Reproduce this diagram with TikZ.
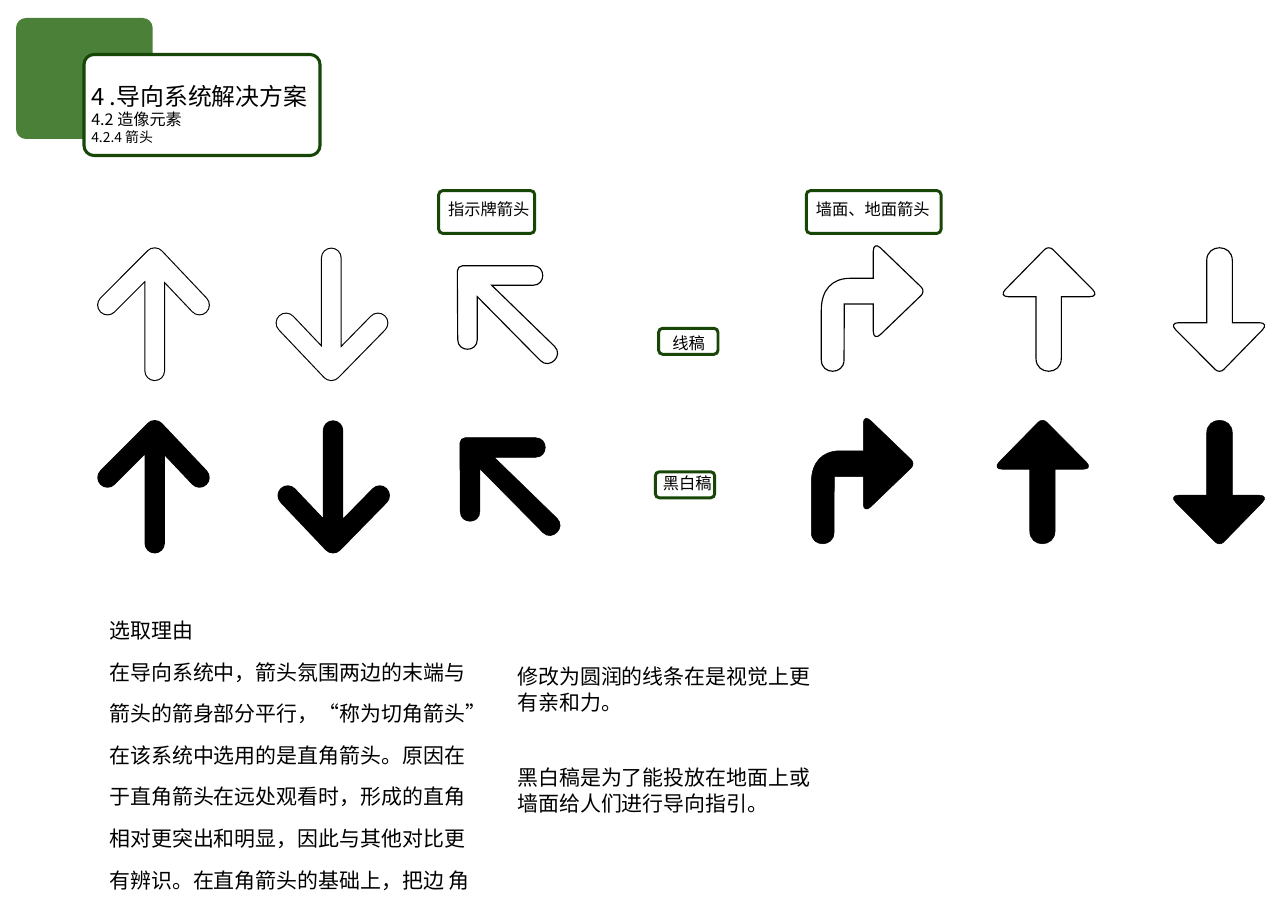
\documentclass[tikz,border=0pt]{standalone}
\usepackage{fontspec}
\setmainfont{Noto Sans CJK SC}
\usetikzlibrary{positioning}
\definecolor{boxgreen}{HTML}{174606}
\definecolor{tabgreen}{HTML}{4A8038}
\tikzstyle{tab} = [fill=tabgreen, rounded corners=7.5pt]
\tikzstyle{titlebox} = [draw=boxgreen, line width=2.3pt, fill=white, rounded corners=7.5pt]
\tikzstyle{tag} = [draw=boxgreen, line width=2.2pt, fill=white, rounded corners=3pt, inner sep=0pt]
\tikzstyle{tagtext} = [inner sep=0pt, font={\fontsize{12.2pt}{14pt}\selectfont}]
\tikzstyle{body} = [anchor=west, inner sep=0pt, font={\fontsize{15.7pt}{18pt}\selectfont}]
\tikzstyle{strokeo} = [black, line width=15.6pt, line cap=round, line join=round]
\tikzstyle{strokei} = [white, line width=13.9pt, line cap=round, line join=round]
\tikzstyle{strokes} = [black, line width=15.3pt, line cap=round, line join=round]
\tikzstyle{plain} = [draw=black, line width=0.85pt, fill=white]
\tikzstyle{solid} = [draw=black, line width=0.4pt, fill=black]
\newcommand{\chevup}{(107.5,305) -- (154.7,257.7) -- (199.5,305) (154.7,257.7) -- (154.7,370.7)}
\newcommand{\chevdown}{(286,323) -- (331.3,370.7) -- (378,323) (331.3,370.7) -- (331.3,258)}
\newcommand{\chevleft}{(533,265.7) .. controls (546,265.7) and (546,285.3) .. (533,285.3) -- (491.7,285.3) -- (554.6,346.4) .. controls (563.8,355.6) and (549.6,369.8) .. (540.4,360.6) -- (477.3,296.7) -- (477.3,339.5) .. controls (477.3,352.5) and (457.7,352.5) .. (457.7,339.5) [rounded corners=4pt] -- (457.3,265.7) [sharp corners] -- cycle}
\newcommand{\turnarrow}{(821.3,360) .. controls (821.3,375) and (844,375) .. (844,360) -- (844.3,304) -- (873.3,304) [rounded corners=7.5pt] -- (873.3,341.4) [rounded corners=4.5pt] -- (925.5,291.2) [rounded corners=7.5pt] -- (873.3,241) [sharp corners] -- (873.3,278.3) -- (850,278.3) .. controls (832,278.3) and (821.3,290) .. (821.3,310) -- cycle}
\newcommand{\solidup}{(1036,358.5) .. controls (1036,375.5) and (1061.3,375.5) .. (1061.3,358.5) -- (1061.3,296.7) [rounded corners=7.5pt] -- (1099.7,296.7) [rounded corners=4.5pt] -- (1048.7,245.3) [rounded corners=7.5pt] -- (998.3,296.7) [sharp corners] -- (1036,296.7) -- cycle}
\newcommand{\soliddown}{(1206.7,260.5) .. controls (1206.7,243.5) and (1232.3,243.5) .. (1232.3,260.5) -- (1232.3,322.7) [rounded corners=7.5pt] -- (1269.4,322.7) [rounded corners=4.5pt] -- (1219.5,373.8) [rounded corners=7.5pt] -- (1168.6,322.7) [sharp corners] -- (1206.7,322.7) -- cycle}
\begin{document}
\begin{tikzpicture}[x=0.75pt,y=-0.75pt]
    \useasboundingbox (0,0) rectangle (1280,912);
    % header
    \fill[tab] (16,18) rectangle (152.7,139);
    \draw[titlebox] (84,54.5) rectangle (320,155.5);
    \node[anchor=west,inner sep=0pt,font={\fontsize{17.9pt}{20pt}\selectfont}](title) at (91,96){4 .导向系统解决方案};
    \node[anchor=west,inner sep=0pt,font={\fontsize{12.1pt}{14pt}\selectfont}](sub) at (91,119.5){4.2 造像元素};
    \node[anchor=west,inner sep=0pt,font={\fontsize{10.4pt}{12pt}\selectfont}](subsub) at (91,137){4.2.4 箭头};
    % tags
    \node[tag,minimum width=72pt,minimum height=32pt](sign) at (486.7,212){};
    \node[tagtext](signtext) at (488.7,209){指示牌箭头};
    \node[tag,minimum width=101pt,minimum height=32pt](wall) at (873.7,212){};
    \node[tagtext](walltext) at (872.7,209){墙面、地面箭头};
    \node[tag,minimum width=44.5pt,minimum height=19.5pt](draft) at (688.3,341.3){};
    \node[tagtext](drafttext) at (688.7,343.3){线稿};
    \node[tag,minimum width=44.5pt,minimum height=19.5pt](mono) at (685,484.8){};
    \node[tagtext](monotext) at (687.3,483){黑白稿};
    % line arrows
    \draw[strokeo] \chevup;
    \draw[strokei] \chevup;
    \draw[strokeo] \chevdown;
    \draw[strokei] \chevdown;
    \draw[plain] \chevleft;
    \draw[plain] \turnarrow;
    \draw[plain] \solidup;
    \draw[plain] \soliddown;
    % black arrows
    \draw[strokes,yshift=-129.4pt] \chevup;
    \draw[strokes,xshift=1.3pt,yshift=-129.4pt] \chevdown;
    \draw[solid,xshift=1.9pt,yshift=-129pt] \chevleft;
    \draw[solid,xshift=-7.5pt,yshift=-129.4pt] \turnarrow;
    \draw[solid,xshift=-4.7pt,yshift=-129.4pt] \solidup;
    \draw[solid,yshift=-129.4pt] \soliddown;
    % text
    \node[body](reason) at (109,631){选取理由};
    \node[body](l1) at (109,672.5){在导向系统中，箭头氛围两边的末端与};
    \node[body](l2) at (109,714){箭头的箭身部分平行，“称为切角箭头”};
    \node[body](l3) at (109,755.5){在该系统中选用的是直角箭头。原因在};
    \node[body](l4) at (109,797){于直角箭头在远处观看时，形成的直角};
    \node[body](l5) at (109,838.5){相对更突出和明显，因此与其他对比更};
    \node[body](l6) at (109,880.5){有辨识。在直角箭头的基础上，把边 角};
    \node[body](r1) at (517,677){修改为圆润的线条在是视觉上更};
    \node[body](r2) at (517,703){有亲和力。};
    \node[body](r3) at (517,778){黑白稿是为了能投放在地面上或};
    \node[body](r4) at (517,804){墙面给人们进行导向指引。};
  \end{tikzpicture}
\end{document}
